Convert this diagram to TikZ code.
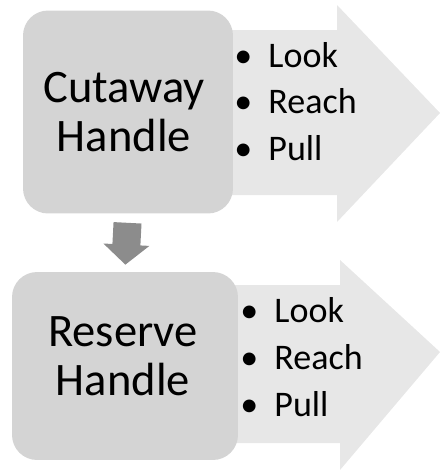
\documentclass[tikz,border=0pt]{standalone}
\usepackage{fontspec}
\setmainfont{Carlito}
\usetikzlibrary{arrows.meta}
\definecolor{boxgray}{RGB}{212,212,212}
\definecolor{bandgray}{RGB}{231,231,231}
\definecolor{downgray}{RGB}{140,140,140}
\tikzset{
  handlebox/.style={fill=boxgray, rounded corners=0.5cm, inner sep=0pt},
  handletext/.style={align=center, font=\fontsize{26.5}{28}\selectfont},
  stepsitems/.style={anchor=west, align=left, inner sep=0pt, font=\fontsize{20.5}{26.6}\selectfont},
}
\begin{document}
\begin{tikzpicture}[x=0.02cm, y=-0.02cm]
        \useasboundingbox (0,0) rectangle (441,471);
        % grandes fleches
        \fill[bandgray] (228,30) -- (337,30) -- (337,5) -- (440,113) -- (337,222) -- (337,195) -- (228,195) -- cycle;
        \fill[bandgray] (232,285) -- (340,285) -- (340,260) -- (440,352) -- (340,470) -- (340,443) -- (232,443) -- cycle;

        % poignees
        \node[handlebox, minimum width=4.2cm, minimum height=4.06cm] (cutbox) at (128,112) {};
        \node[handletext] (cuttext) at (124,112) {Cutaway\\Handle};

        \node[handlebox, minimum width=4.52cm, minimum height=3.76cm] (resbox) at (125,366) {};
        \node[handletext] (restext) at (123,356) {Reserve\\Handle};

        % listes
        \node[stepsitems] (cutsteps) at (234,101.5) {\textbullet\hspace{0.45em}Look\\\textbullet\hspace{0.45em}Reach\\\textbullet\hspace{0.45em}Pull};
        \node[stepsitems] (ressteps) at (240,357) {\textbullet\hspace{0.45em}Look\\\textbullet\hspace{0.45em}Reach\\\textbullet\hspace{0.45em}Pull};

        % fleche vers le bas
        \draw[downgray, line width=0.56cm, -{Triangle[length=0.4cm, width=0.9cm]}, shorten <=0.18cm, shorten >=0.14cm] (cutbox.south) -- (resbox.north);
\end{tikzpicture}
\end{document}
